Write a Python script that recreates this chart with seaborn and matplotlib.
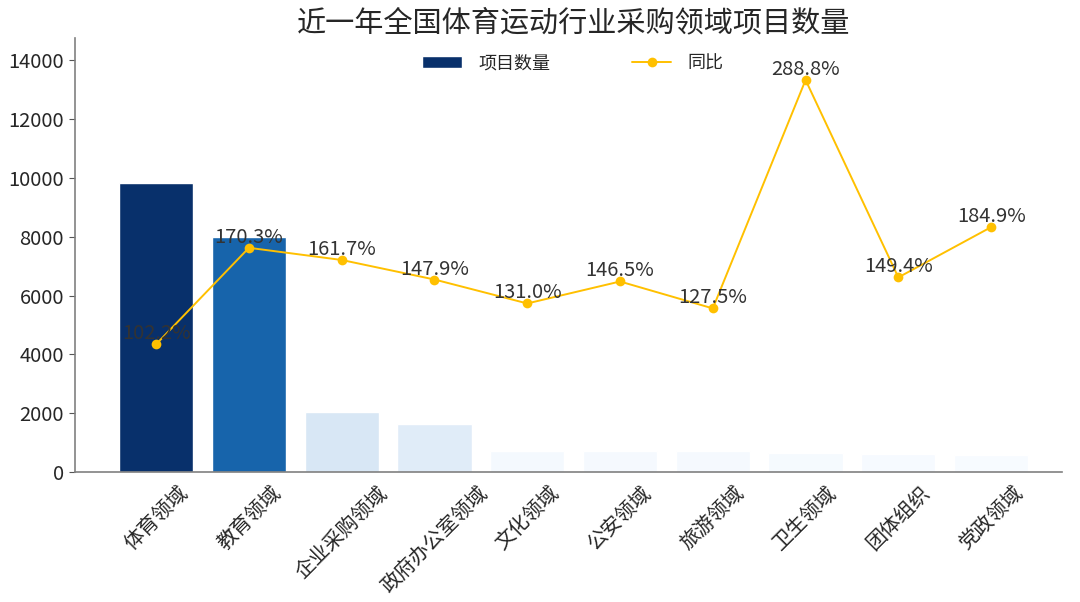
import numpy as np
import matplotlib
matplotlib.use("Agg")
import matplotlib.pyplot as plt
from matplotlib.colors import Normalize
import seaborn as sns

# data
categories = ['体育领域', '教育领域', '企业采购领域', '政府办公室领域', '文化领域',
              '公安领域', '旅游领域', '卫生领域', '团体组织', '党政领域']
counts = [9840, 7990, 2045, 1635, 725, 722, 718, 655, 622, 580]
yoy = [102.2, 170.3, 161.7, 147.9, 131.0, 146.5, 127.5, 288.8, 149.4, 184.9]

title = '近一年全国体育运动行业采购领域项目数量'
bar_label = '项目数量'
line_label = '同比'

sns.set_style('white')
plt.rcParams['font.family'] = ['Noto Sans CJK SC', 'DejaVu Sans']
plt.rcParams['axes.unicode_minus'] = False

# bar colours from the Blues map, scaled by value
cmap = sns.color_palette('Blues', as_cmap=True)
norm = Normalize(vmin=min(counts), vmax=max(counts))
bar_colors = [cmap(norm(v)) for v in counts]

fig = plt.figure(figsize=(10.8, 6.02), dpi=100)
ax = fig.add_axes([0.069, 0.216, 0.914, 0.721])

sns.barplot(x=categories, y=counts, hue=categories, palette=bar_colors,
            legend=False, saturation=1, width=0.8, ax=ax)
ax.set_ylim(0, max(counts) * 1.5)
ax.set_xlim(-0.88, 9.76)
ax.set_xlabel('')
ax.set_ylabel('')
ax.set_yticks(np.arange(0, 14001, 2000))
ax.tick_params(axis='y', labelsize=14.5, length=4, color='#555555')
ax.tick_params(axis='x', labelsize=14.5, length=4, color='#555555', rotation=45)
for lbl in ax.get_xticklabels():
    lbl.set_ha('center')
sns.despine(ax=ax)
for side in ['left', 'bottom']:
    ax.spines[side].set_color('#808080')
    ax.spines[side].set_linewidth(1.2)

# year-on-year line on a hidden second axis
ax2 = ax.twinx()
pos = np.arange(len(categories))
sns.lineplot(x=pos, y=yoy, ax=ax2, sort=False, color='#ffc000',
             marker='o', markersize=7, markeredgewidth=0, linewidth=1.4)
ax2.set_ylim(12, 318.5)
ax2.set_axis_off()
for x, v in zip(pos, yoy):
    ax2.text(x, v, f'{v:.1f}%', ha='center', va='bottom',
             fontsize=14.5, color='#333333')

handles = [ax.patches[0], ax2.lines[0]]
ax.legend(handles, [bar_label, line_label], loc='upper center',
          bbox_to_anchor=(0.505, 1.0), ncol=2, frameon=False, fontsize=13,
          handlelength=2.2, handletextpad=0.9, columnspacing=4.5)

ax.set_title(title, fontsize=21, pad=2, x=0.506)

fig.savefig('out.png', dpi=100)
